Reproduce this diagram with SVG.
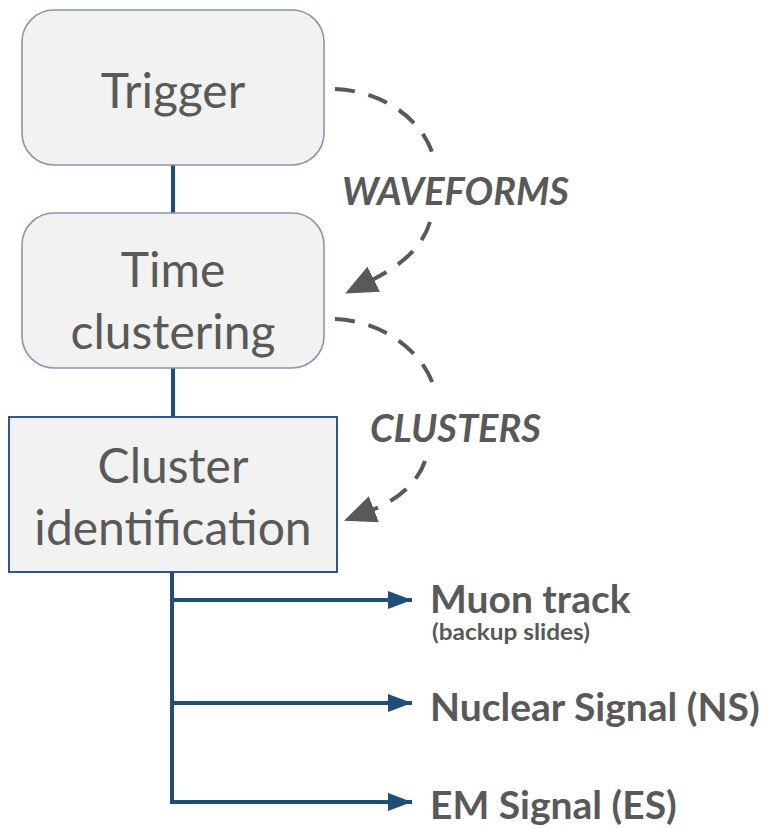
<svg xmlns="http://www.w3.org/2000/svg" width="771" height="828" viewBox="0 0 771 828">
<style>
.rbox{fill:#f2f2f2;stroke:#8497b0;stroke-width:1.6}
.sbox{fill:#f2f2f2;stroke:#2f5597;stroke-width:2}
.lbl{font-family:Lato,"Liberation Sans",sans-serif;font-size:48px;fill:#595959;text-anchor:middle}
.out{font-family:Lato,"Liberation Sans",sans-serif;font-weight:bold;font-size:39px;fill:#595959}
.sub{font-family:Lato,"Liberation Sans",sans-serif;font-weight:bold;font-size:22px;fill:#595959}
.flow{font-family:Lato,"Liberation Sans",sans-serif;font-weight:bold;font-style:italic;font-size:38px;fill:#595959}
.blue{fill:none;stroke:#1f4e79;stroke-width:4}
.dash{fill:none;stroke:#595959;stroke-width:4;stroke-dasharray:20 14}
</style>
<defs>
<marker id="barrow" markerWidth="24" markerHeight="18" refX="24" refY="9" orient="auto" markerUnits="userSpaceOnUse">
<path d="M0,0 L24,9 L0,18 Z" fill="#1f4e79"/>
</marker>
<marker id="garrow" markerWidth="32" markerHeight="28" refX="2" refY="14" orient="auto" markerUnits="userSpaceOnUse">
<path d="M0,0 L32,14 L0,28 Z" fill="#595959"/>
</marker>
</defs>
<g id="connectors">
<line class="blue" x1="173" y1="165" x2="173" y2="213"/>
<line class="blue" x1="173" y1="368" x2="173" y2="417"/>
<path class="blue" d="M172,572 V802"/>
<path class="blue" d="M172,600 H412" marker-end="url(#barrow)"/>
<path class="blue" d="M172,703 H412" marker-end="url(#barrow)"/>
<path class="blue" d="M170,802 H412" marker-end="url(#barrow)"/>
<path class="dash" d="M335,89 C382,91 420,118 432,152"/>
<path class="dash" d="M430,222 C422,248 400,266 372,280" marker-end="url(#garrow)"/>
<path class="dash" d="M335,319 C382,321 422,350 434,387"/>
<path class="dash" d="M425,461 C418,482 398,500 372,510" marker-end="url(#garrow)"/>
</g>
<g id="trigger">
<rect class="rbox" x="22" y="10" width="302" height="155" rx="32"/>
<text class="lbl" x="173" y="108">Trigger</text>
</g>
<g id="time-clustering">
<rect class="rbox" x="22" y="213" width="302" height="155" rx="32"/>
<text class="lbl" x="173" y="287">Time</text>
<text class="lbl" x="173" y="349">clustering</text>
</g>
<g id="cluster-identification">
<rect class="sbox" x="9" y="417" width="328" height="155"/>
<text class="lbl" x="173" y="483">Cluster</text>
<text class="lbl" x="173" y="545">identification</text>
</g>
<g id="waveforms-label">
<text class="flow" x="342" y="205">WAVEFORMS</text>
</g>
<g id="clusters-label">
<text class="flow" x="370" y="442">CLUSTERS</text>
</g>
<g id="muon-track">
<text class="out" x="430" y="613">Muon track</text>
<text class="sub" x="432" y="640" textLength="158" lengthAdjust="spacingAndGlyphs">(backup slides)</text>
</g>
<g id="nuclear-signal">
<text class="out" x="430" y="721">Nuclear Signal (NS)</text>
</g>
<g id="em-signal">
<text class="out" x="430" y="819">EM Signal (ES)</text>
</g>
</svg>
